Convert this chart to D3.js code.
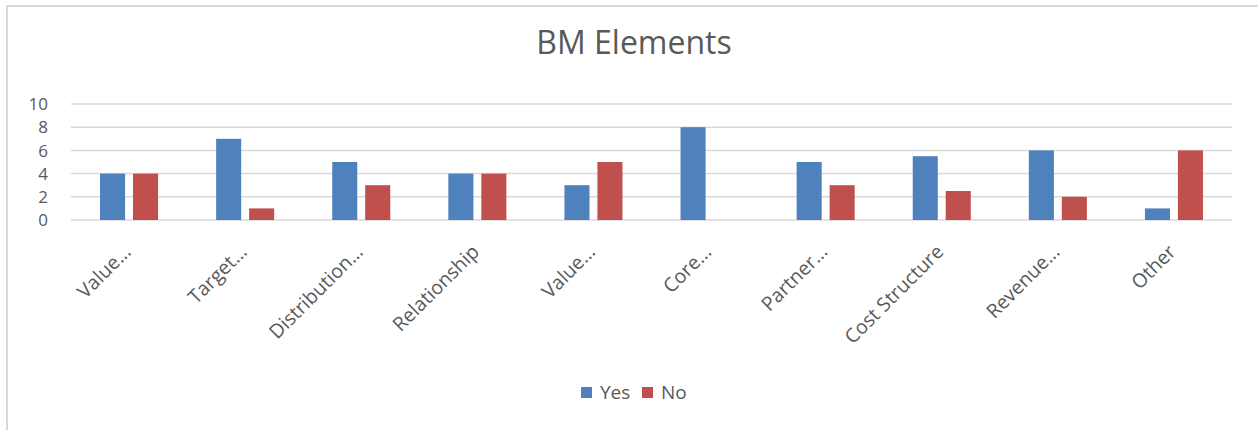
<!DOCTYPE html>
<html>
<head>
<meta charset="utf-8">
<script src="https://cdn.jsdelivr.net/npm/d3@7"></script>
<style>
  html, body { margin: 0; padding: 0; background: #fff; }
  svg { display: block; font-family: "Open Sans", sans-serif; }
</style>
</head>
<body>
<div id="chart"></div>
<script>
const width = 1258
const height = 430

const categories = ['Value...', 'Target...', 'Distribution...', 'Relationship', 'Value...',
  'Core...', 'Partner...', 'Cost Structure', 'Revenue...', 'Other']
const series = ['Yes', 'No']
const yesValues = [4, 7, 5, 4, 3, 8, 5, 5.5, 6, 1]
const noValues = [4, 1, 3, 4, 5, 0, 3, 2.5, 2, 6]
const yTicks = [0, 2, 4, 6, 8, 10]
const colors = ['#4f81bd', '#c0504d']

const plot = { left: 71, right: 1232, top: 104, bottom: 220 }

const svg = d3.select('#chart').append('svg')
  .attr('width', width)
  .attr('height', height)

// chart frame (runs past the right and bottom edges)
svg.append('rect')
  .attr('x', 7).attr('y', 6)
  .attr('width', 1300).attr('height', 500)
  .attr('fill', 'none')
  .attr('stroke', '#d9d9d9')
  .attr('stroke-width', 2)

svg.append('text')
  .attr('x', 634).attr('y', 54)
  .attr('text-anchor', 'middle')
  .attr('font-size', 32)
  .attr('fill', '#595959')
  .text('BM Elements')

let x0 = d3.scaleBand()
  .domain(d3.range(categories.length))
  .range([plot.left, plot.right])

let x1 = d3.scaleBand()
  .domain(series)
  .range([x0.bandwidth() * 0.25, x0.bandwidth() * 0.75])
  .paddingInner(0.24)

let y = d3.scaleLinear()
  .domain([0, 10])
  .range([plot.bottom, plot.top])

// gridlines
svg.append('g')
  .selectAll('line')
  .data(yTicks)
  .enter()
  .append('line')
  .attr('x1', plot.left).attr('x2', plot.right)
  .attr('y1', d => y(d)).attr('y2', d => y(d))
  .attr('stroke', '#d9d9d9')
  .attr('stroke-width', 1.5)

// y labels
svg.append('g')
  .selectAll('text')
  .data(yTicks)
  .enter()
  .append('text')
  .attr('x', plot.left - 23)
  .attr('y', d => y(d))
  .attr('dy', '0.36em')
  .attr('text-anchor', 'end')
  .attr('font-size', 17)
  .attr('fill', '#595959')
  .text(d => d)

const rows = categories.map((c, i) => ({ i, values: [yesValues[i], noValues[i]] }))

svg.append('g')
  .selectAll('g')
  .data(rows)
  .enter()
  .append('g')
  .attr('transform', d => `translate(${x0(d.i)},0)`)
  .selectAll('rect')
  .data(d => d.values.map((v, k) => ({ key: series[k], v, k })))
  .enter()
  .filter(d => d.v > 0)
  .append('rect')
  .attr('x', d => x1(d.key))
  .attr('width', x1.bandwidth())
  .attr('y', d => y(d.v))
  .attr('height', d => y(0) - y(d.v))
  .attr('fill', d => colors[d.k])

// category labels
svg.append('g')
  .selectAll('text')
  .data(categories)
  .enter()
  .append('text')
  .attr('transform', (d, i) => `translate(${x0(i) + x0.bandwidth() / 2 + 3},${plot.bottom + 33}) rotate(-45)`)
  .attr('text-anchor', 'end')
  .attr('font-size', 19.5)
  .attr('fill', '#595959')
  .text(d => d)

// legend
const legend = svg.append('g')
  .selectAll('g')
  .data(series)
  .enter()
  .append('g')
  .attr('transform', (d, i) => `translate(${581 + i * 61},387)`)
legend.append('rect')
  .attr('width', 11).attr('height', 11)
  .attr('fill', (d, i) => colors[i])
legend.append('text')
  .attr('x', 19).attr('y', 12)
  .attr('font-size', 19)
  .attr('fill', '#595959')
  .text(d => d)
</script>
</body>
</html>
